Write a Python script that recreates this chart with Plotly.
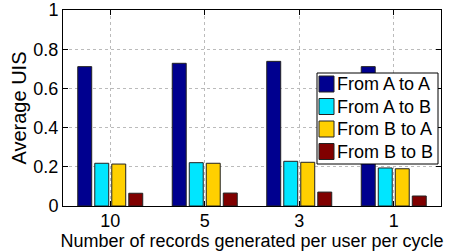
import plotly.graph_objects as go

categories = ["10", "5", "3", "1"]
series_names = ["From A to A", "From A to B", "From B to A", "From B to B"]
a_to_a = [0.711, 0.728, 0.738, 0.711]
a_to_b = [0.218, 0.221, 0.228, 0.194]
b_to_a = [0.214, 0.218, 0.223, 0.190]
b_to_b = [0.065, 0.066, 0.071, 0.051]
colors = ["#00008F", "#00E6FF", "#FFD000", "#800000"]
y_ticks = [0, 0.2, 0.4, 0.6, 0.8, 1]
y_tick_labels = ["0", "0.2", "0.4", "0.6", "0.8", "1"]

font = "Liberation Sans"
W, H = 451, 251
ML, MR, MT, MB = 63, 10, 10, 45
PW, PH = W - ML - MR, H - MT - MB


def px(x):
    return (x - ML) / PW


def py(y):
    return (H - MB - y) / PH


fig = go.Figure()
for name, vals, col in zip(series_names, [a_to_a, a_to_b, b_to_a, b_to_b], colors):
    fig.add_trace(go.Bar(
        x=categories, y=vals, name=name, showlegend=False,
        marker=dict(color=col, line=dict(color="#222222", width=1)),
        hoverinfo="skip",
    ))

# custom legend box (MATLAB style)
shapes = [dict(type="rect", xref="paper", yref="paper",
               x0=px(317), x1=px(438), y0=py(164), y1=py(73),
               fillcolor="white", line=dict(color="black", width=1), layer="above")]
annotations = []
for i, (name, col) in enumerate(zip(series_names, colors)):
    cy = 84 + i * 22.5
    shapes.append(dict(type="rect", xref="paper", yref="paper",
                       x0=px(319), x1=px(334), y0=py(cy + 8), y1=py(cy - 8),
                       fillcolor=col, line=dict(color="#222222", width=1), layer="above"))
    annotations.append(dict(xref="paper", yref="paper", x=px(335), y=py(cy),
                            xanchor="left", yanchor="middle", showarrow=False,
                            text=name, font=dict(family=font, size=18, color="black")))

fig.update_layout(
    width=W, height=H,
    margin=dict(l=ML, r=MR, t=MT, b=MB),
    paper_bgcolor="white", plot_bgcolor="white",
    barmode="group", bargap=0.28, bargroupgap=0.18,
    font=dict(family=font, size=18, color="black"),
    showlegend=False,
    shapes=shapes, annotations=annotations,
    xaxis=dict(
        type="category", range=[-0.5, 3.5], automargin=False,
        showline=True, linecolor="black", linewidth=1, mirror="ticks",
        ticks="inside", ticklen=5, tickcolor="black",
        showgrid=True, gridcolor="#BBBBBB", griddash="dot", gridwidth=1,
        tickfont=dict(family=font, size=18),
        title=dict(text="Number of records generated per user per cycle",
                   font=dict(family=font, size=18), standoff=0),
    ),
    yaxis=dict(
        range=[0, 1], tickvals=y_ticks, ticktext=y_tick_labels, automargin=False,
        showline=True, linecolor="black", linewidth=1, mirror="ticks",
        ticks="inside", ticklen=5, tickcolor="black",
        showgrid=True, gridcolor="#BBBBBB", griddash="dot", gridwidth=1,
        zeroline=False,
        tickfont=dict(family=font, size=18),
        title=dict(text="Average UIS", font=dict(family=font, size=20), standoff=1),
    ),
)
try:
    fig.update_xaxes(ticklabelstandoff=-2)
except Exception:
    pass

fig.write_html("out.html", config={"displayModeBar": False},
               post_script="document.body.style.margin='0';document.body.style.padding='0';")
